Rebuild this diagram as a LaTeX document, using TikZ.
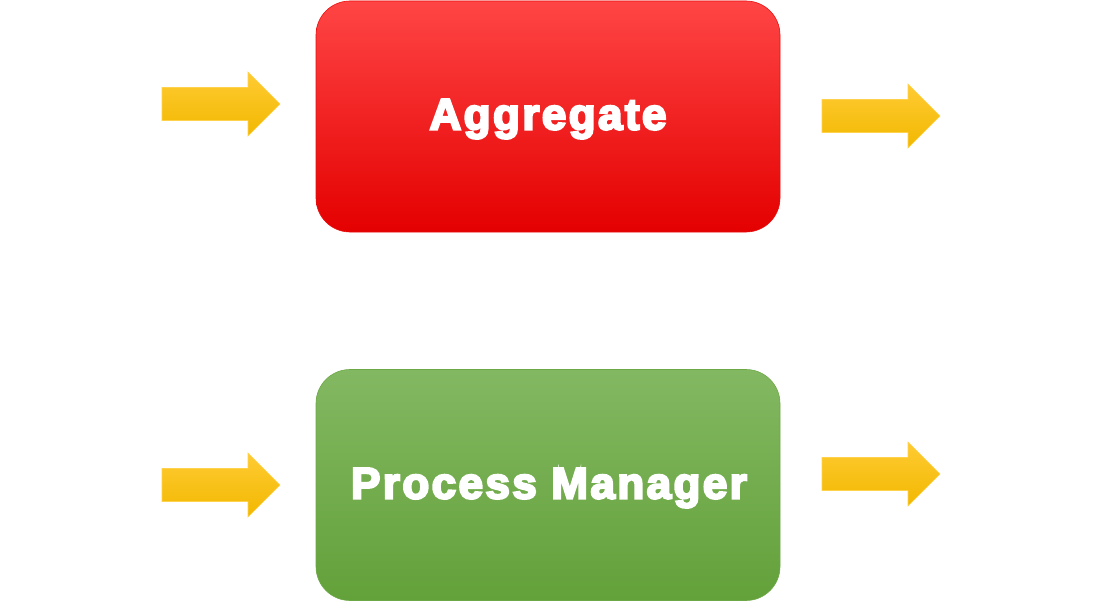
\documentclass[tikz,border=0pt]{standalone}
\usepackage{fontspec}
\newfontfamily\boxfont{Liberation Sans Bold}[FakeBold=5,LetterSpace=5.5]
\definecolor{redtop}{HTML}{FF4545}
\definecolor{redmid}{HTML}{FF0000}
\definecolor{redbot}{HTML}{E40000}
\definecolor{greentop}{HTML}{83B862}
\definecolor{greenmid}{HTML}{74AD4E}
\definecolor{greenbot}{HTML}{63A13A}
\definecolor{goldtop}{HTML}{FFCB33}
\definecolor{goldmid}{HTML}{FFC305}
\definecolor{goldbot}{HTML}{F2B800}
\definecolor{goldline}{HTML}{FFD24D}
\tikzset{
  blockbox/.style={rounded corners=34pt, minimum width=464pt, minimum height=231pt, inner sep=0pt},
  redbox/.style={blockbox, top color=redtop, middle color=redmid, bottom color=redbot, draw=redbot!80!redtop, line width=0.6pt},
  greenbox/.style={blockbox, top color=greentop, middle color=greenmid, bottom color=greenbot, draw=greenbot!70!greentop, line width=0.6pt},
  boxlabel/.style={text=white, font=\boxfont\fontsize{44}{50}\selectfont, inner sep=0pt},
  arrowfill/.style={top color=goldtop, middle color=goldmid, bottom color=goldbot, draw=goldline, line width=0.6pt},
  goldarrow/.pic={\path[arrowfill] (0,-16.5)--(86,-16.5)--(86,-32)--(118,0)--(86,32)--(86,16.5)--(0,16.5)--cycle;}
}
\begin{document}
\begin{tikzpicture}[x=1pt,y=-1pt]
\useasboundingbox (0,0) rectangle (1105,602);
\node[redbox] (agg) at (548,116.5) {};
\node[boxlabel] (aggtext) at (548,119) {Aggregate};
\node[greenbox] (pm) at (548,485) {};
\node[boxlabel] (pmtext) at (549,488) {Process Manager};
\pic (aggin) at (162,104) {goldarrow};
\pic (aggout) at (822,116) {goldarrow};
\pic (pmin) at (162,485) {goldarrow};
\pic (pmout) at (822,474) {goldarrow};
\end{tikzpicture}
\end{document}
